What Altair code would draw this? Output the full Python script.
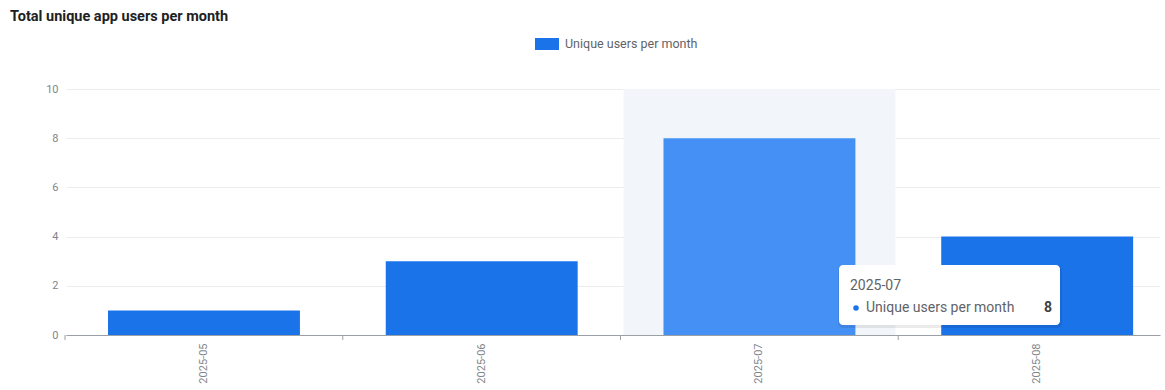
import altair as alt
import pandas as pd

# ---- data ----
months = ["2025-05", "2025-06", "2025-07", "2025-08"]
users = [1, 3, 8, 4]
series_name = "Unique users per month"
highlight_month = "2025-07"
y_ticks = [0, 2, 4, 6, 8, 10]
chart_title = "Total unique app users per month"

df = pd.DataFrame({"month": months, "users": users, "series": [series_name] * len(months)})

BLUE = "#1a73e8"
BLUE_HOVER = "#4590f5"
FONT = "Roboto"
PAD_INNER = 0.309

x_enc = alt.X(
    "month:N",
    sort=months,
    scale=alt.Scale(paddingInner=PAD_INNER, paddingOuter=0.124, align=0.61),
    axis=alt.Axis(
        title=None, labelAngle=270, labelFontSize=11, labelColor="#80868b",
        labelFont=FONT, domainColor="#9aa0a6", ticks=False, labelPadding=8,
    ),
)
y_scale = alt.Scale(domain=[0, 10], nice=False)
y_axis = alt.Axis(
    title=None, values=y_ticks, domain=False, ticks=False, gridColor="#ececec",
    labelPadding=8, labelFontSize=11, labelColor="#80868b", labelFont=FONT,
)

# hover background band
band = (
    alt.Chart(df)
    .transform_filter(alt.datum.month == highlight_month)
    .transform_calculate(top="10")
    .mark_bar(color="#f2f5f9", width=alt.RelativeBandSize(1.417))
    .encode(x=x_enc, y=alt.Y("top:Q", scale=y_scale, axis=y_axis))
)

bars = (
    alt.Chart(df)
    .mark_bar()
    .encode(
        x=x_enc,
        y=alt.Y("users:Q", scale=y_scale, axis=y_axis),
        color=alt.condition(
            alt.datum.month == highlight_month,
            alt.value(BLUE_HOVER),
            alt.Color(
                "series:N",
                scale=alt.Scale(domain=[series_name], range=[BLUE]),
                legend=alt.Legend(
                    title=None, orient="none", legendX=469, legendY=-57,
                    symbolType="M-1,-0.5H1V0.5H-1Z", symbolSize=576,
                    symbolStrokeWidth=0, symbolOpacity=1,
                    labelFontSize=12.5, labelColor="#5f6368", labelFont=FONT,
                    labelOffset=6,
                ),
            ),
        ),
    )
)

# small ticks at the boundaries between categories
edge_ticks = (
    alt.Chart(df)
    .mark_rule(color="#9aa0a6", xOffset=-43)
    .encode(x=alt.X("month:N", sort=months, bandPosition=0), y=alt.value(246), y2=alt.value(251))
)

# tooltip overlay (static hover state)
tip_df = pd.DataFrame({"title": [highlight_month], "label": [series_name],
                       "value": [str(users[months.index(highlight_month)])]})
tip_shadow = alt.Chart(tip_df).mark_rect(color="#000000", opacity=0.08, cornerRadius=5).encode(
    x=alt.value(772), x2=alt.value(996), y=alt.value(176), y2=alt.value(239)
)
tip_box = alt.Chart(tip_df).mark_rect(color="#ffffff", cornerRadius=4).encode(
    x=alt.value(773), x2=alt.value(994), y=alt.value(176), y2=alt.value(236)
)
tip_title = alt.Chart(tip_df).mark_text(
    align="left", baseline="alphabetic", fontSize=14, color="#5f6368", font=FONT
).encode(x=alt.value(784), y=alt.value(201), text="title:N")
tip_dot = alt.Chart(tip_df).mark_point(filled=True, size=30, color=BLUE, opacity=1).encode(
    x=alt.value(790), y=alt.value(219)
)
tip_label = alt.Chart(tip_df).mark_text(
    align="left", baseline="middle", fontSize=14, color="#5f6368", font=FONT
).encode(x=alt.value(800), y=alt.value(219), text="label:N")
tip_value = alt.Chart(tip_df).mark_text(
    align="left", baseline="middle", fontSize=14, fontWeight="bold", color="#3c4043", font=FONT
).encode(x=alt.value(978), y=alt.value(219), text="value:N")

chart = (
    alt.layer(band, bars, edge_ticks, tip_shadow, tip_box, tip_title, tip_dot, tip_label, tip_value)
    .properties(
        width=1094,
        height=246,
        autosize=alt.AutoSizeParams(type="none"),
        padding={"left": 66, "top": 89, "right": 5, "bottom": 55},
        background="white",
        title=alt.TitleParams(
            chart_title, anchor="start", frame="group", dx=-56, dy=-4, fontSize=14.5,
            fontWeight="bold", color="#202124", font=FONT,
        ),
    )
    .configure_view(stroke=None)
)

chart.save("out.html", embed_options={"renderer": "svg", "actions": False})
